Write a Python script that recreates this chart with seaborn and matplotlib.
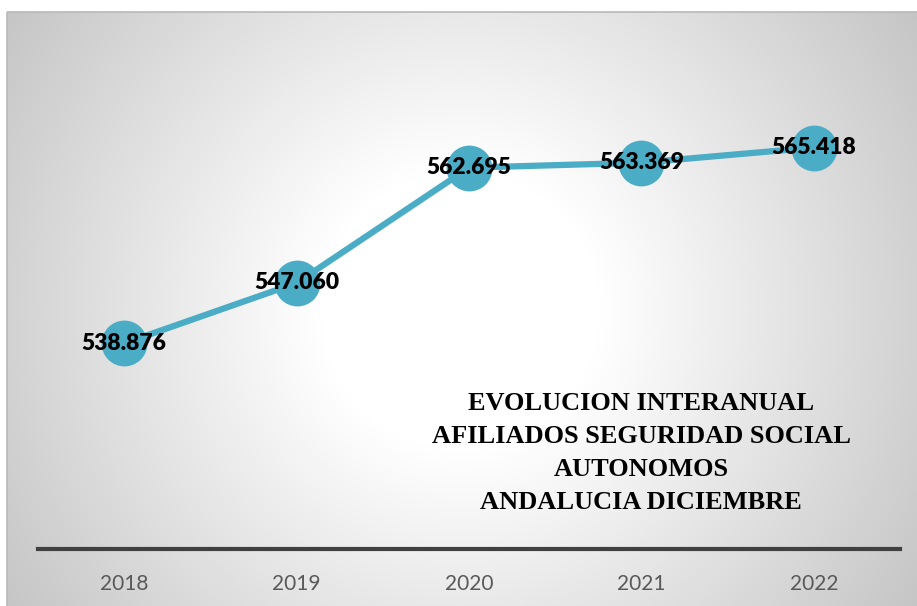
import numpy as np
import matplotlib.pyplot as plt
import seaborn as sns
from matplotlib.patches import Rectangle

# data
years = ['2018', '2019', '2020', '2021', '2022']
afiliados = [538.876, 547.060, 562.695, 563.369, 565.418]
labels = ['538.876', '547.060', '562.695', '563.369', '565.418']
titulo = 'EVOLUCION INTERANUAL\nAFILIADOS SEGURIDAD SOCIAL\nAUTONOMOS\nANDALUCIA DICIEMBRE'

sns.set_style('white')
plt.rcParams['font.family'] = ['Lato', 'DejaVu Sans']

W, H = 917, 606
fig = plt.figure(figsize=(W / 100, H / 100), dpi=100)

# radial gradient background of the chart area
bg = fig.add_axes([0, 0, 1, 1])
yy, xx = np.mgrid[0:H, 0:W]
r = np.sqrt((xx - 460) ** 2 + (yy - 310) ** 2)
val = 1 - np.clip(r - 140, 0, None) * 0.00056
img = np.dstack([val, val, val])
img[:12, :, :] = 1
img[:, :7, :] = 1
bg.imshow(img, extent=(0, W, H, 0), aspect='auto', interpolation='bilinear')
bg.add_patch(Rectangle((7, 12), W, H, fill=False, edgecolor='#b8b8b8', linewidth=1.2))
bg.set_xlim(0, W)
bg.set_ylim(H, 0)
bg.axis('off')

ax = fig.add_axes([38 / W, (H - 549) / H, (900 - 38) / W, (549 - 40) / H])
ax.set_facecolor('none')
x = np.arange(len(years))
sns.lineplot(x=x, y=afiliados, ax=ax, color='#4BACC6', linewidth=4.5,
             marker='o', markersize=33, markeredgewidth=0, zorder=3)
for xi, yi, lab in zip(x, afiliados, labels):
    ax.text(xi, yi, lab, ha='center', va='center', fontsize=16.5,
            fontweight='heavy', color='black', zorder=4)

ax.set_xlim(-0.5, 4.5)
ax.set_ylim(511, 580)
ax.set_xticks(x)
ax.set_xticklabels(years, fontsize=15, color='#595959')
ax.set_yticks([])
ax.tick_params(axis='x', length=0, pad=18)
for s in ['top', 'right', 'left']:
    ax.spines[s].set_visible(False)
ax.spines['bottom'].set_color('#404040')
ax.spines['bottom'].set_linewidth(3)

fig.text(641 / W, 1 - 453 / H, titulo, ha='center', va='center',
         fontsize=19, fontweight='bold', family='Liberation Serif',
         linespacing=1.55, color='black')

fig.savefig('out.png', dpi=100)
